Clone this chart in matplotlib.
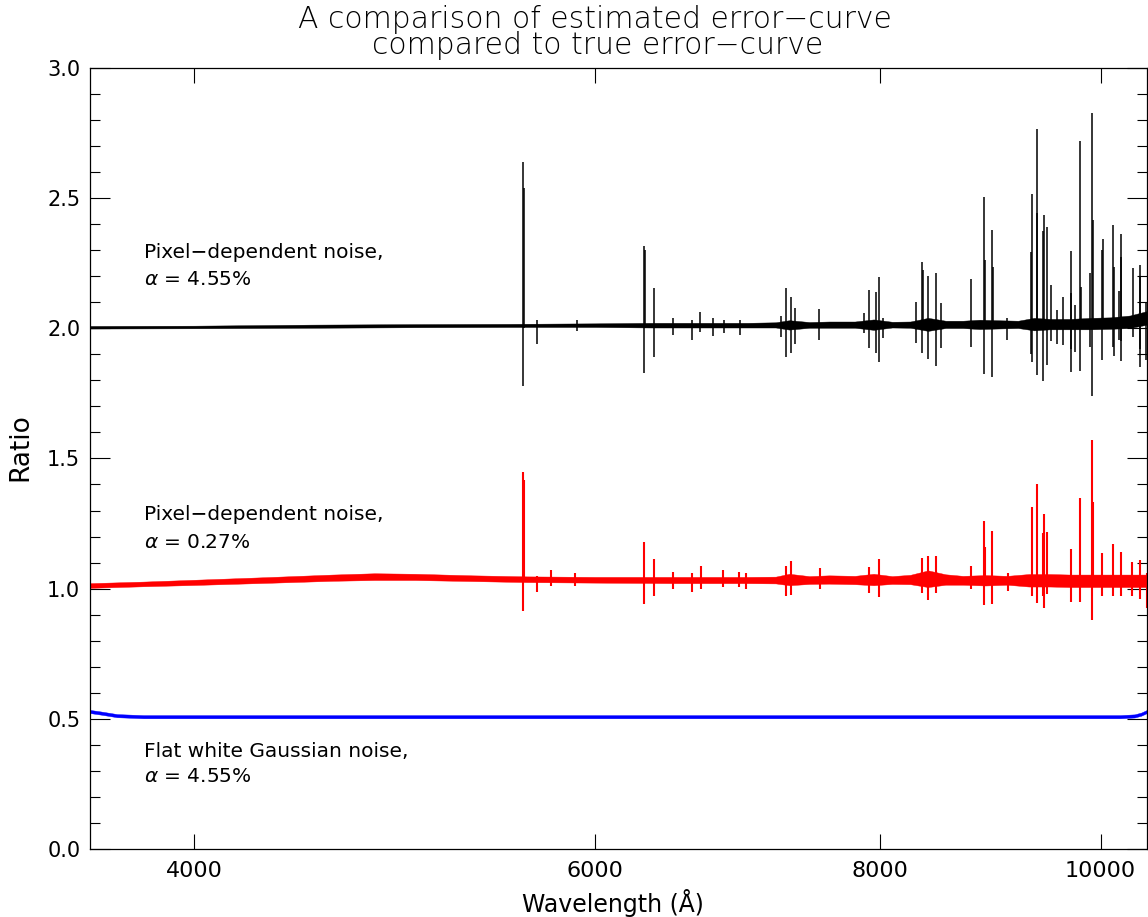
import matplotlib.pyplot as plt
import numpy as np
from matplotlib.ticker import MultipleLocator, NullLocator, FixedLocator, FixedFormatter
import matplotlib.transforms as mtransforms

plt.rcParams['font.family'] = ['DejaVu Sans']

# ---- black curve: pixel-dependent noise, alpha = 4.55% (offset by +1) ----
black_wave = [3600, 4000, 4500, 5000, 5500, 6000, 6350, 6500, 7000, 7200, 7300, 7450,
              7600, 7800, 7950, 8100, 8250, 8400, 8550, 8700, 8850, 9000, 9200, 9350,
              9500, 9700, 9900, 10100, 10300, 10480]
black_level = [2.004, 2.005, 2.008, 2.010, 2.011, 2.012, 2.012, 2.012, 2.012, 2.013, 2.013, 2.013,
               2.014, 2.014, 2.014, 2.014, 2.014, 2.015, 2.015, 2.015, 2.015, 2.015, 2.015, 2.016,
               2.016, 2.016, 2.018, 2.020, 2.025, 2.040]
black_half = [0.005, 0.005, 0.006, 0.006, 0.006, 0.007, 0.009, 0.009, 0.009, 0.010, 0.018, 0.011,
              0.012, 0.012, 0.020, 0.011, 0.012, 0.025, 0.014, 0.014, 0.018, 0.016, 0.014, 0.024,
              0.020, 0.020, 0.022, 0.022, 0.024, 0.026]

black_line_wave = [5577, 5583, 5656, 5890, 6300, 6306, 6364, 6493, 6617, 6671, 6761, 6836,
                   6948, 7240, 7277, 7316, 7340, 7524, 7869, 7914, 7965, 7991, 8027, 8300,
                   8344, 8359, 8399, 8468, 8506, 8774, 8885, 8893, 8957, 8965, 9100, 9320,
                   9333, 9374, 9380, 9438, 9444, 9476, 9508, 9572, 9624, 9702, 9709, 9741,
                   9794, 9800, 9897, 9913, 9921, 10014, 10020, 10126, 10133, 10184, 10208,
                   10212, 10330, 10403, 10411, 10467]
black_line_top = [2.637, 2.540, 2.030, 2.030, 2.317, 2.300, 2.156, 2.040, 2.030, 2.063, 2.040, 2.030,
                  2.030, 2.048, 2.156, 2.120, 2.078, 2.075, 2.060, 2.147, 2.140, 2.196, 2.040, 2.100,
                  2.256, 2.224, 2.201, 2.211, 2.098, 2.188, 2.506, 2.263, 2.378, 2.237, 2.040, 2.294,
                  2.515, 2.764, 2.444, 2.374, 2.434, 2.390, 2.167, 2.070, 2.121, 2.297, 2.134, 2.090,
                  2.720, 2.160, 2.211, 2.826, 2.416, 2.301, 2.342, 2.397, 2.237, 2.144, 2.275,
                  2.361, 2.230, 2.243, 2.199, 2.100]
black_line_bottom = [1.779, 2.000, 1.940, 1.990, 1.829, 2.000, 1.891, 1.975, 1.955, 1.985, 1.970, 1.980,
                     1.975, 1.968, 1.891, 1.905, 1.940, 1.955, 1.980, 1.925, 1.905, 1.872, 1.963, 1.944,
                     1.905, 2.000, 1.882, 1.855, 1.925, 1.927, 1.825, 2.000, 1.812, 2.000, 1.955, 1.900,
                     1.872, 1.821, 2.000, 1.798, 2.000, 1.859, 1.950, 1.940, 1.936, 1.833, 1.919, 1.910,
                     1.837, 2.000, 1.930, 1.740, 2.000, 1.879, 2.000, 1.930, 1.894, 1.955, 1.950,
                     1.876, 1.966, 1.853, 1.920, 1.879]

# ---- red curve: pixel-dependent noise, alpha = 0.27% ----
red_wave = [3600, 3800, 4000, 4300, 4600, 4800, 5000, 5300, 5600, 6000, 6500, 7000, 7200,
            7300, 7450, 7600, 7800, 7950, 8100, 8250, 8400, 8550, 8700, 8900, 9100, 9300,
            9500, 9700, 9900, 10100, 10300, 10480]
red_level = [1.012, 1.018, 1.024, 1.033, 1.042, 1.046, 1.045, 1.040, 1.036, 1.034, 1.033, 1.033, 1.033,
             1.035, 1.033, 1.035, 1.033, 1.035, 1.033, 1.035, 1.038, 1.035, 1.032, 1.032, 1.032, 1.032,
             1.032, 1.030, 1.030, 1.030, 1.030, 1.030]
red_half = [0.009, 0.009, 0.010, 0.011, 0.012, 0.013, 0.012, 0.011, 0.011, 0.011, 0.012, 0.012, 0.013,
            0.022, 0.015, 0.016, 0.016, 0.022, 0.015, 0.018, 0.032, 0.020, 0.017, 0.020, 0.017, 0.024,
            0.024, 0.024, 0.024, 0.024, 0.024, 0.024]

red_line_wave = [5577, 5583, 5656, 5737, 5880, 6300, 6364, 6493, 6617, 6677, 6830, 6940,
                 6990, 7277, 7316, 7527, 7910, 7991, 8344, 8400, 8468, 8774, 8885, 8893,
                 8957, 9110, 9334, 9374, 9438, 9441, 9476, 9702, 9792, 9913, 9921, 10016,
                 10122, 10211, 10327, 10408, 10476]
red_line_top = [1.447, 1.418, 1.050, 1.072, 1.060, 1.181, 1.114, 1.065, 1.060, 1.087, 1.070, 1.065,
                1.060, 1.088, 1.106, 1.078, 1.084, 1.112, 1.116, 1.126, 1.126, 1.087, 1.260, 1.161,
                1.222, 1.060, 1.315, 1.402, 1.212, 1.285, 1.219, 1.151, 1.350, 1.571, 1.334, 1.135,
                1.172, 1.142, 1.104, 1.110, 1.060]
red_line_bottom = [0.914, 1.030, 0.988, 1.010, 1.010, 0.940, 0.973, 1.000, 0.988, 1.000, 1.005, 1.005,
                   1.000, 0.973, 0.976, 1.000, 0.983, 0.969, 0.983, 0.957, 0.983, 1.000, 0.937, 1.020,
                   0.940, 0.990, 0.970, 0.943, 0.970, 0.924, 0.980, 0.950, 0.950, 0.880, 1.020, 0.970,
                   0.970, 0.970, 0.970, 0.960, 0.925]

# ---- blue curve: flat white Gaussian noise (offset by -0.5) ----
blue_wave = [3600, 3640, 3700, 3800, 5000, 7000, 9000, 10200, 10350, 10420, 10480]
blue_level = [0.528, 0.522, 0.512, 0.508, 0.508, 0.508, 0.508, 0.508, 0.511, 0.518, 0.528]
blue_half = [0.006, 0.006, 0.006, 0.006, 0.006, 0.006, 0.006, 0.006, 0.006, 0.006, 0.006]

x_ticks = [4000, 6000, 8000, 10000]

fig = plt.figure(figsize=(11.48, 9.17), dpi=100)
ax = fig.add_axes([0.0784, 0.0742, 0.9207, 0.8517])


def draw_curve(wave, level, half, lw_wave, lw_top, lw_bot, color, lw):
    level = np.array(level)
    half = np.array(half)
    ax.fill_between(wave, level - half, level + half, color=color, lw=0.3)
    if lw_wave is not None:
        ax.vlines(lw_wave, lw_bot, lw_top, colors=color, lw=lw)


draw_curve(black_wave, black_level, black_half,
           black_line_wave, black_line_top, black_line_bottom, 'black', 1.1)
draw_curve(red_wave, red_level, red_half,
           red_line_wave, red_line_top, red_line_bottom, 'red', 1.5)
draw_curve(blue_wave, blue_level, blue_half, None, None, None, 'blue', 1.2)

ax.set_xscale('log')
ax.set_xlim(3600, 10480)
ax.set_ylim(0, 3.0)

ax.xaxis.set_major_locator(FixedLocator(x_ticks))
ax.xaxis.set_major_formatter(FixedFormatter([str(t) for t in x_ticks]))
ax.xaxis.set_minor_locator(NullLocator())
ax.yaxis.set_major_locator(MultipleLocator(0.5))
ax.yaxis.set_minor_locator(MultipleLocator(0.1))
ax.yaxis.set_major_formatter(plt.FuncFormatter(lambda v, p: f'{v:.1f}'))

ax.tick_params(axis='both', which='both', direction='in', top=True, right=True, width=0.8)
ax.tick_params(axis='y', which='major', length=14.5, labelsize=15, pad=7)
ax.tick_params(axis='y', which='minor', length=7.2)
ax.tick_params(axis='x', which='major', length=11, labelsize=16, pad=9)
for s in ax.spines.values():
    s.set_linewidth(0.9)

ax.text(0.495, -0.069, 'Wavelength (Å)', transform=ax.transAxes,
        ha='center', va='center', fontsize=17)
ax.text(-0.066, 0.515, 'Ratio', transform=ax.transAxes, rotation=90,
        ha='center', va='center', fontsize=19)

fig.text(0.518, 1 - 19 / 917, 'A comparison of estimated error\u2212curve',
         ha='center', va='center', fontsize=21.5, fontweight='light')
fig.text(0.521, 1 - 46 / 917, 'compared to true error\u2212curve',
         ha='center', va='center', fontsize=21.5, fontweight='light')

trans = mtransforms.blended_transform_factory(ax.transAxes, ax.transData)
notes = [(2.290, 'Pixel\u2212dependent noise,'), (2.186, r'$\alpha$ = 4.55%'),
         (1.283, 'Pixel\u2212dependent noise,'), (1.179, r'$\alpha$ = 0.27%'),
         (0.373, 'Flat white Gaussian noise,'), (0.277, r'$\alpha$ = 4.55%')]
for y, s in notes:
    ax.text(0.051, y, s, transform=trans, ha='left', va='center', fontsize=14.5)

fig.savefig('out.png', dpi=100)
